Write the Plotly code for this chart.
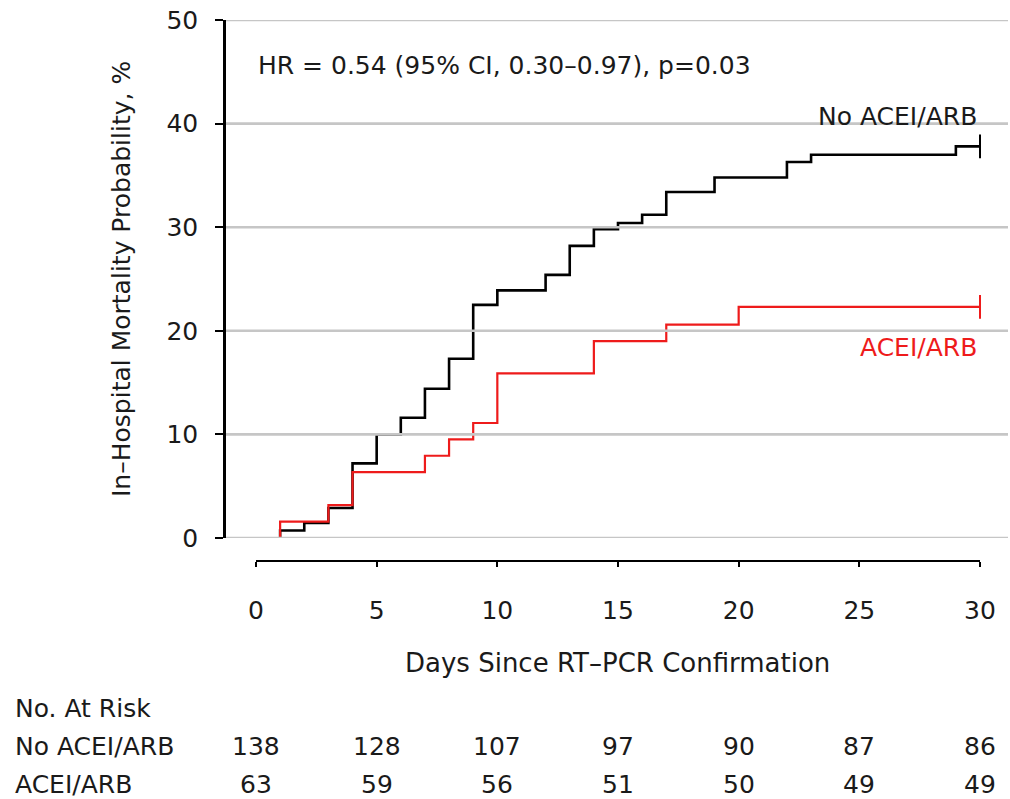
import plotly.graph_objects as go

# ---------------- data ----------------
no_days = [1, 1, 2, 3, 4, 5, 6, 7, 8, 9, 10, 12, 13, 14, 15, 16, 17, 19, 22, 23, 29, 30]
no_prob = [0, 0.72, 1.45, 2.9, 7.2, 10.0, 11.6, 14.4, 17.3, 22.5, 23.9, 25.4, 28.2,
           29.8, 30.4, 31.2, 33.4, 34.8, 36.3, 37.0, 37.8, 37.8]

ac_days = [1, 1, 3, 4, 7, 8, 9, 10, 14, 17, 20, 30]
ac_prob = [0, 1.59, 3.17, 6.35, 7.94, 9.52, 11.1, 15.9, 19.0, 20.6, 22.3, 22.3]

x_ticks = [0, 5, 10, 15, 20, 25, 30]
y_ticks = [0, 10, 20, 30, 40, 50]
risk_no = [138, 128, 107, 97, 90, 87, 86]
risk_ac = [63, 59, 56, 51, 50, 49, 49]

group_labels = ["No ACEI/ARB", "ACEI/ARB"]
hr_text = "HR = 0.54 (95% CI, 0.30\u20130.97), p=0.03"
x_title = "Days Since RT\u2013PCR Confirmation"
y_title = "In\u2013Hospital Mortality Probability, %"
risk_title = "No. At Risk"

# ---------------- layout geometry ----------------
W, H = 1010, 799
L, R, T, B = 226, 1008, 20, 561          # plot area in pixels
X0_PX, X30_PX = 256, 980                  # pixel of day 0 / day 30
Y0_PX = 538                               # pixel of 0 %
ppd = (X30_PX - X0_PX) / 30.0
x_range = [(L - X0_PX) / ppd, 30 + (R - X30_PX) / ppd]
y_dom_low = (B - Y0_PX) / (B - T)


def py(p):
    return (B - p) / (B - T)


def px(p):
    return (p - L) / (R - L)


FONT = "DejaVu Sans"
FS = 25
TXT = "#1a1a1a"
RED = "#ee1b1b"

fig = go.Figure()
fig.add_trace(go.Scatter(x=no_days, y=no_prob, mode="lines", line=dict(color="black", width=2.6, shape="hv"),
                         showlegend=False, hoverinfo="skip"))
fig.add_trace(go.Scatter(x=ac_days, y=ac_prob, mode="lines", line=dict(color=RED, width=2.2, shape="hv"),
                         showlegend=False, hoverinfo="skip"))
# censor marks
fig.add_trace(go.Scatter(x=[no_days[-1]], y=[no_prob[-1]], mode="markers",
                         marker=dict(symbol="line-ns", size=17, line=dict(color="black", width=2)),
                         showlegend=False, hoverinfo="skip"))
fig.add_trace(go.Scatter(x=[ac_days[-1]], y=[ac_prob[-1]], mode="markers",
                         marker=dict(symbol="line-ns", size=17, line=dict(color=RED, width=2)),
                         showlegend=False, hoverinfo="skip"))

shapes = []
# gridlines drawn above traces, as in the reference
for v in y_ticks:
    shapes.append(dict(type="line", xref="paper", yref="y", x0=0, x1=1, y0=v, y1=v,
                       line=dict(color="#c6c6c6", width=2.6), layer="above"))
# x axis line spanning only the tick range
shapes.append(dict(type="line", xref="x", yref="paper", x0=min(x_ticks), x1=max(x_ticks), y0=0, y1=0,
                   line=dict(color="black", width=2.2), layer="above"))

ann = []
ann.append(dict(text=hr_text, xref="paper", yref="paper", x=px(256), y=py(66), xanchor="left",
                yanchor="middle", showarrow=False, font=dict(family=FONT, size=FS, color=TXT)))
ann.append(dict(text=group_labels[0], xref="paper", yref="paper", x=px(979), y=py(116), xanchor="right",
                yanchor="middle", showarrow=False, font=dict(family=FONT, size=FS, color=TXT)))
ann.append(dict(text=group_labels[1], xref="paper", yref="paper", x=px(979), y=py(347), xanchor="right",
                yanchor="middle", showarrow=False, font=dict(family=FONT, size=FS, color=RED)))
ann.append(dict(text=x_title, xref="paper", yref="paper", x=0.5, y=py(663), xanchor="center",
                yanchor="middle", showarrow=False, font=dict(family=FONT, size=26, color=TXT)))
ann.append(dict(text=y_title, xref="paper", yref="paper", x=px(121), y=py(279), xanchor="center",
                yanchor="middle", textangle=-90, showarrow=False, font=dict(family=FONT, size=FS, color=TXT)))
ann.append(dict(text=risk_title, xref="paper", yref="paper", x=px(13), y=py(708), xanchor="left",
                yanchor="middle", showarrow=False, font=dict(family=FONT, size=FS, color=TXT)))
for lab, row, ypx in [(group_labels[0], risk_no, 746), (group_labels[1], risk_ac, 784)]:
    ann.append(dict(text=lab, xref="paper", yref="paper", x=px(13), y=py(ypx), xanchor="left",
                    yanchor="middle", showarrow=False, font=dict(family=FONT, size=FS, color=TXT)))
    for xv, n in zip(x_ticks, row):
        ann.append(dict(text=str(n), xref="x", yref="paper", x=xv, y=py(ypx), xanchor="center",
                        yanchor="middle", showarrow=False, font=dict(family=FONT, size=FS, color=TXT)))

fig.update_layout(
    width=W, height=H,
    margin=dict(l=L, r=W - R, t=T, b=H - B, pad=0),
    paper_bgcolor="white", plot_bgcolor="white",
    font=dict(family=FONT, size=FS, color=TXT),
    xaxis=dict(range=x_range, tickvals=x_ticks, ticktext=[str(v) for v in x_ticks],
               showgrid=False, zeroline=False, showline=False,
               ticks="outside", ticklen=5, tickwidth=2, tickcolor="black",
               ticklabelstandoff=22, tickfont=dict(family=FONT, size=FS, color=TXT),
               anchor="free", position=0),
    yaxis=dict(range=[0, 50], domain=[y_dom_low, 1], tickvals=y_ticks,
               showgrid=False, zeroline=False, showline=True, linecolor="black", linewidth=2.6,
               ticks="outside", ticklen=8, tickwidth=2, tickcolor="black",
               ticklabelstandoff=12, tickfont=dict(family=FONT, size=FS, color=TXT)),
    shapes=shapes,
    annotations=ann,
)

fig.write_html("out.html")
